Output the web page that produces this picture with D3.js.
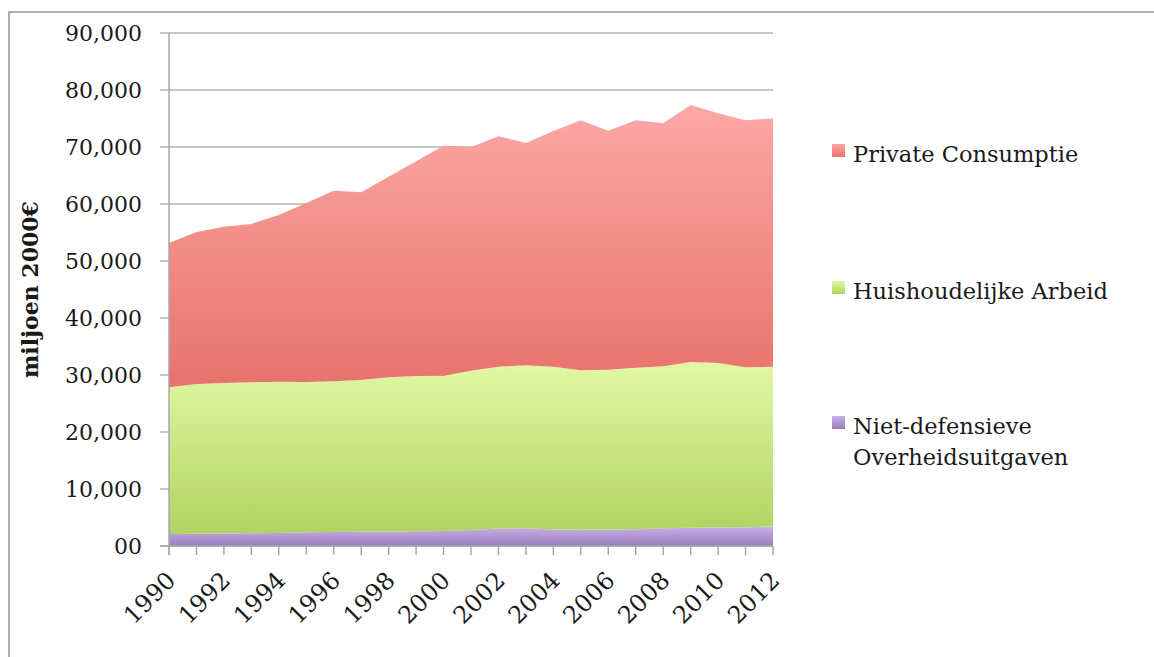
<!DOCTYPE html>
<html>
<head>
<meta charset="utf-8">
<script src="https://cdn.jsdelivr.net/npm/d3@7"></script>
<style>
	body { margin: 0; background: #fff; }
	svg { display: block; }
	text { font-family: 'DejaVu Serif', serif; fill: #1a1a1a; }
</style>
</head>
<body>
<svg id="chart" width="1154" height="657"></svg>
<script>
var years = [1990, 1991, 1992, 1993, 1994, 1995, 1996, 1997, 1998, 1999, 2000, 2001,
	2002, 2003, 2004, 2005, 2006, 2007, 2008, 2009, 2010, 2011, 2012];

// miljoen euro (prijzen 2000)
var overheid = [2100, 2150, 2200, 2250, 2300, 2400, 2450, 2500, 2550, 2600, 2650, 2800,
	3050, 3100, 2900, 2850, 2900, 2950, 3100, 3200, 3250, 3300, 3400];
var huishoudelijk = [25740, 26270, 26400, 26470, 26530, 26370, 26440, 26620, 27040, 27220, 27230, 27960,
	28410, 28600, 28560, 27970, 28040, 28340, 28420, 29080, 28850, 28050, 28060];
var prive = [25320, 26680, 27400, 27780, 29240, 31400, 33440, 32930, 35210, 37680, 40320, 39240,
	40440, 39000, 41340, 43880, 41920, 43410, 42630, 45090, 43800, 43350, 43540];

var seriesNames = ['Niet-defensieve Overheidsuitgaven', 'Huishoudelijke Arbeid', 'Private Consumptie'];
var yTicks = [0, 10000, 20000, 30000, 40000, 50000, 60000, 70000, 80000, 90000];
var yTickLabels = ['00', '10,000', '20,000', '30,000', '40,000', '50,000', '60,000', '70,000', '80,000', '90,000'];
var xLabelYears = [1990, 1992, 1994, 1996, 1998, 2000, 2002, 2004, 2006, 2008, 2010, 2012];

var svg = d3.select('#chart');

var plotLeft = 169,
    plotRight = 773,
    plotTop = 33,
    plotBottom = 546;

var x = d3.scaleLinear().domain([1990, 2012]).range([plotLeft, plotRight]);
var y = d3.scaleLinear().domain([0, 90000]).range([plotBottom, plotTop]);

var grads = [
	{id: 'g-paars', top: '#c9b3e6', bottom: '#9a7cbd'},
	{id: 'g-groen', top: '#e2f8a4', bottom: '#b1d362'},
	{id: 'g-rood', top: '#fca8a5', bottom: '#e8726c'}
];

var defs = svg.append('defs');
grads.forEach(g => {
	var lg = defs.append('linearGradient')
		.attr('id', g.id)
		.attr('x1', 0).attr('y1', 0).attr('x2', 0).attr('y2', 1);
	lg.append('stop').attr('offset', '0%').attr('stop-color', g.top);
	lg.append('stop').attr('offset', '100%').attr('stop-color', g.bottom);
});

// frame (only top and left visible)
svg.append('line')
	.attr('x1', 9).attr('x2', 1154).attr('y1', 12).attr('y2', 12)
	.attr('stroke', '#b0b0b0').attr('stroke-width', 2);
svg.append('line')
	.attr('x1', 9).attr('x2', 9).attr('y1', 11).attr('y2', 657)
	.attr('stroke', '#b0b0b0').attr('stroke-width', 2);

// gridlines
svg.append('g')
	.selectAll('line')
	.data(yTicks)
	.enter()
	.append('line')
	.attr('x1', plotLeft - 9)
	.attr('x2', plotRight)
	.attr('y1', d => y(d))
	.attr('y2', d => y(d))
	.attr('stroke', '#b4b4b4')
	.attr('stroke-width', 1.5);

// stacked areas
var table = years.map((yr, i) => ({
	year: yr,
	'Niet-defensieve Overheidsuitgaven': overheid[i],
	'Huishoudelijke Arbeid': huishoudelijk[i],
	'Private Consumptie': prive[i]
}));

var stacked = d3.stack().keys(seriesNames)(table);

var area = d3.area()
	.x(d => x(d.data.year))
	.y0(d => y(d[0]))
	.y1(d => y(d[1]));

svg.append('g')
	.selectAll('path')
	.data(stacked)
	.enter()
	.append('path')
	.attr('d', area)
	.attr('fill', (d, i) => 'url(#' + grads[i].id + ')');

// axes lines
svg.append('line')
	.attr('x1', plotLeft).attr('x2', plotLeft).attr('y1', plotTop).attr('y2', plotBottom + 9)
	.attr('stroke', '#a8a8a8').attr('stroke-width', 1.5);
svg.append('line')
	.attr('x1', plotLeft - 9).attr('x2', plotRight).attr('y1', plotBottom).attr('y2', plotBottom)
	.attr('stroke', '#a8a8a8').attr('stroke-width', 1.5);

svg.append('g')
	.selectAll('line')
	.data(years)
	.enter()
	.append('line')
	.attr('x1', d => x(d))
	.attr('x2', d => x(d))
	.attr('y1', plotBottom)
	.attr('y2', plotBottom + 9)
	.attr('stroke', '#a8a8a8')
	.attr('stroke-width', 1.5);

// y tick labels
svg.append('g')
	.selectAll('text')
	.data(yTicks)
	.enter()
	.append('text')
	.attr('x', 142)
	.attr('y', d => y(d))
	.attr('dy', '0.36em')
	.attr('text-anchor', 'end')
	.style('font-size', '22px')
	.text((d, i) => yTickLabels[i]);

// x tick labels
svg.append('g')
	.selectAll('text')
	.data(xLabelYears)
	.enter()
	.append('text')
	.attr('transform', d => `translate(${x(d) + 8},${plotBottom + 36}) rotate(-45)`)
	.attr('text-anchor', 'end')
	.style('font-size', '24px')
	.text(d => d);

// y title
svg.append('text')
	.attr('transform', `translate(38,${(plotTop + plotBottom) / 2}) rotate(-90)`)
	.attr('text-anchor', 'middle')
	.style('font-size', '22px')
	.style('font-weight', 'bold')
	.text('miljoen 2000€');

// legend
var legend = [
	{name: 'Private Consumptie', lines: ['Private Consumptie'], grad: 'g-rood', y: 151},
	{name: 'Huishoudelijke Arbeid', lines: ['Huishoudelijke Arbeid'], grad: 'g-groen', y: 288},
	{name: 'Niet-defensieve Overheidsuitgaven', lines: ['Niet-defensieve', 'Overheidsuitgaven'], grad: 'g-paars', y: 423}
];

var lg = svg.append('g')
	.selectAll('g')
	.data(legend)
	.enter()
	.append('g');

lg.append('rect')
	.attr('x', 832)
	.attr('y', d => d.y - 7)
	.attr('width', 13)
	.attr('height', 13)
	.attr('fill', d => 'url(#' + d.grad + ')');

lg.append('text')
	.attr('x', 853)
	.attr('y', d => d.y)
	.style('font-size', '22.5px')
	.selectAll('tspan')
	.data(d => d.lines)
	.enter()
	.append('tspan')
	.attr('x', 853)
	.attr('dy', (d, i) => i === 0 ? '0.5em' : '31px')
	.text(d => d);
</script>
</body>
</html>
